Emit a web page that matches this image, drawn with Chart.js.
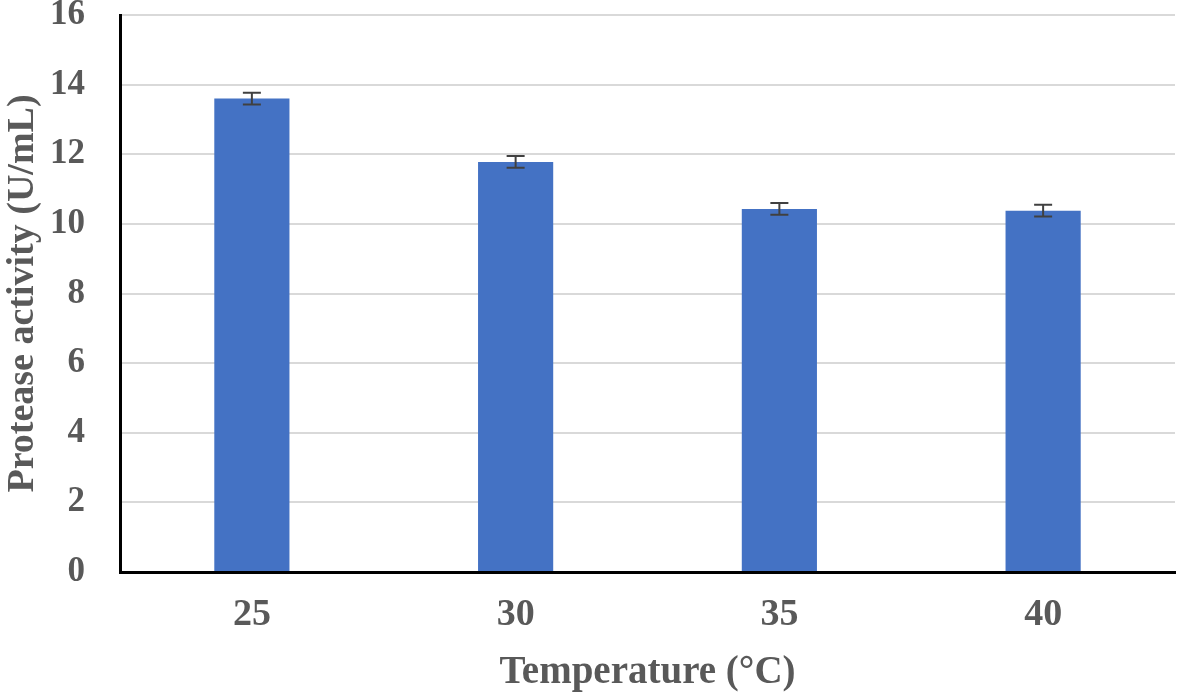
<!DOCTYPE html>
<html lang="en">
  <head>
    <meta charset="UTF-8" />
    <title>Protease activity vs temperature</title>
    <style>
      body {
        margin: 0;
        padding: 0;
        background-color: #ffffff;
      }
      .chart-container {
        width: 1180px;
        height: 698px;
      }
    </style>
  </head>
  <body>
    <div class="chart-container">
      <canvas id="bar-chart"></canvas>
    </div>

    <script src="https://cdn.jsdelivr.net/npm/chart.js@4.4.1/dist/chart.umd.min.js"></script>
    <script>
      const temperatures = ["25", "30", "35", "40"];
      const activity = [13.6, 11.78, 10.43, 10.38];
      const activityError = [0.17, 0.17, 0.17, 0.17];
      const yTicks = [0, 2, 4, 6, 8, 10, 12, 14, 16];

      // draws the small error bars on top of each bar
      const errorBarPlugin = {
        id: "errorBars",
        afterDatasetsDraw(chart) {
          const ctx = chart.ctx;
          const meta = chart.getDatasetMeta(0);
          const yScale = chart.scales.y;
          ctx.save();
          ctx.strokeStyle = "#404040";
          ctx.lineWidth = 2;
          meta.data.forEach((bar, i) => {
            const x = bar.x;
            const yTop = yScale.getPixelForValue(activity[i] + activityError[i]);
            const yBot = yScale.getPixelForValue(activity[i] - activityError[i]);
            const cap = 9;
            ctx.beginPath();
            ctx.moveTo(x, yTop);
            ctx.lineTo(x, yBot);
            ctx.moveTo(x - cap, yTop);
            ctx.lineTo(x + cap, yTop);
            ctx.moveTo(x - cap, yBot);
            ctx.lineTo(x + cap, yBot);
            ctx.stroke();
          });
          ctx.restore();
        },
      };

      const ctx = document.getElementById("bar-chart").getContext("2d");
      new Chart(ctx, {
        type: "bar",
        data: {
          labels: temperatures,
          datasets: [
            {
              data: activity,
              backgroundColor: "#4472c4",
              borderColor: "#4472c4",
              borderWidth: 0,
              categoryPercentage: 1,
              barPercentage: 0.285,
            },
          ],
        },
        options: {
          responsive: true,
          maintainAspectRatio: false,
          animation: false,
          layout: {
            padding: { top: 15, right: 5, bottom: 0, left: 0 },
          },
          plugins: {
            legend: { display: false },
            tooltip: { enabled: false },
          },
          scales: {
            x: {
              grid: { display: false, drawTicks: false },
              border: { color: "#000000", width: 3 },
              ticks: {
                color: "#595959",
                padding: 20,
                font: { family: "Liberation Serif", weight: "bold", size: 38 },
              },
              title: {
                display: true,
                text: "Temperature (°C)",
                color: "#595959",
                padding: { top: 6, bottom: 2 },
                font: { family: "Liberation Serif", weight: "bold", size: 39 },
              },
              afterFit(scale) {
                scale.height = 126;
              },
            },
            y: {
              min: 0,
              max: 16,
              afterBuildTicks(scale) {
                scale.ticks = yTicks.map((v) => ({ value: v }));
              },
              grid: { color: "#d9d9d9", lineWidth: 2, drawTicks: false },
              border: { color: "#000000", width: 3 },
              ticks: {
                color: "#595959",
                padding: 35,
                font: { family: "Liberation Serif", weight: "bold", size: 35 },
              },
              title: {
                display: true,
                text: "Protease activity (U/mL)",
                color: "#595959",
                padding: { top: 0, bottom: 0 },
                font: { family: "Liberation Serif", weight: "bold", size: 38 },
              },
              afterFit(scale) {
                scale.width = 120;
                scale.paddingTop = 0;
                scale.paddingBottom = 0;
              },
            },
          },
        },
        plugins: [errorBarPlugin],
      });
    </script>
  </body>
</html>
